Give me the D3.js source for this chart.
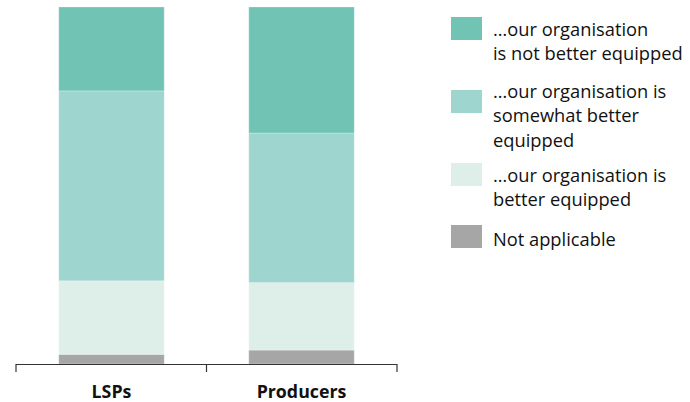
<!DOCTYPE html>
<html><head><meta charset="utf-8">
<script src="https://cdn.jsdelivr.net/npm/d3@7"></script>
<style>body{margin:0;background:#fff;}svg{display:block;font-family:"Open Sans",Lato,sans-serif;font-variant-ligatures:none;}</style>
</head><body>
<svg id="c" width="690" height="402"></svg>
<script>
const categories = ["LSPs", "Producers"];
const seriesNames = ["Not applicable", "…our organisation is better equipped", "…our organisation is somewhat better equipped", "…our organisation is not better equipped"];
const notApplicable = [2.7, 3.9];
const betterEquipped = [20.6, 18.9];
const somewhatBetter = [53.2, 41.9];
const notBetter = [23.5, 35.3];
const colors = ["#a6a6a7", "#deefe9", "#9fd5cf", "#71c3b4"];
const legendItems = [
  {lines: ["…our organisation", "is not better equipped"], color: "#71c3b4"},
  {lines: ["…our organisation is", "somewhat better", "equipped"], color: "#9fd5cf"},
  {lines: ["…our organisation is", "better equipped"], color: "#deefe9"},
  {lines: ["Not applicable"], color: "#a6a6a7"}
];

const svg = d3.select("#c");
const data = categories.map((c, i) => ({cat: c, s0: notApplicable[i], s1: betterEquipped[i], s2: somewhatBetter[i], s3: notBetter[i]}));
const stack = d3.stack().keys(["s0","s1","s2","s3"]);
const series = stack(data);

const x = d3.scaleBand().domain(categories).range([16, 397]).paddingInner(0.445).paddingOuter(0.225);
const y = d3.scaleLinear().domain([0, 100]).range([364, 7]);

svg.append("g").selectAll("g").data(series).join("g")
  .attr("fill", (d, i) => colors[i])
  .selectAll("rect").data(d => d).join("rect")
  .attr("x", d => x(d.data.cat))
  .attr("width", x.bandwidth())
  .attr("y", d => y(d[1]))
  .attr("height", d => y(d[0]) - y(d[1]))
  .attr("stroke", "rgba(255,255,255,0.25)")
  .attr("stroke-width", 1);

// axis
const ax = svg.append("g");
ax.append("line").attr("x1", 16).attr("x2", 397).attr("y1", 364.5).attr("y2", 364.5).attr("stroke", "#333").attr("stroke-width", 1.2);
[16, 16 + (397-16)/2, 397].forEach(px => {
  ax.append("line").attr("x1", px).attr("x2", px).attr("y1", 364).attr("y2", 372).attr("stroke", "#333").attr("stroke-width", 1.2);
});
ax.selectAll("text").data(categories).join("text")
  .attr("x", d => x(d) + x.bandwidth()/2)
  .attr("y", 398)
  .attr("text-anchor", "middle")
  .attr("font-weight", "bold")
  .attr("font-size", 17.8)
  .attr("fill", "#111")
  .text(d => d);

// legend
const swatchY = [17, 90, 163, 225];
const textY = [35.5, 98, 182, 246];
const lg = svg.append("g");
legendItems.forEach((it, i) => {
  lg.append("rect").attr("x", 451).attr("y", swatchY[i]).attr("width", 31).attr("height", 23).attr("fill", it.color);
  it.lines.forEach((ln, j) => {
    lg.append("text").attr("x", 493).attr("y", textY[i] + j * 24.4).attr("font-size", 18.3).attr("fill", "#111").text(ln);
  });
});
</script>
</body></html>
